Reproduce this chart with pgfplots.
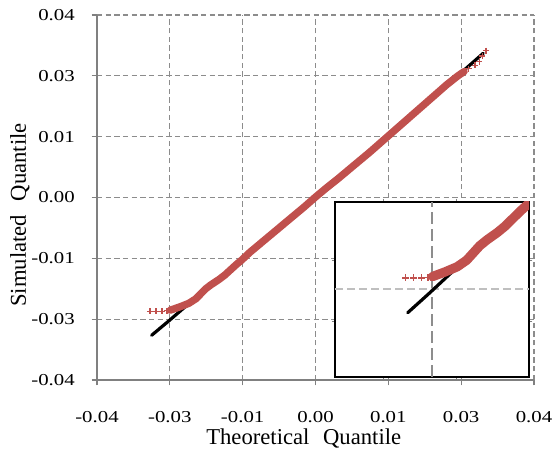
\documentclass[border=0pt]{standalone}
\usepackage{pgfplots}
\pgfplotsset{compat=1.18}
\usepackage{pgfplotstable}
\usepackage{fontspec}
\setmainfont{Liberation Serif}
\newfontfamily\tickfont[FakeStretch=1.25]{Liberation Serif}
\definecolor{qred}{RGB}{192,80,77}
\definecolor{gridgray}{RGB}{140,140,140}
\definecolor{axgray}{RGB}{128,128,128}

\pgfplotstableread{
x y
-0.0300 -0.0302
-0.0270 -0.0272
-0.0240 -0.0241
-0.0150 -0.0150
0.0000 0.0002
0.0150 0.0155
0.0250 0.0256
0.0307 0.0316
}\blackdata

\pgfplotstableread{
x y
-0.0266 -0.0247
-0.0249 -0.0240
-0.0232 -0.0232
-0.0219 -0.0222
-0.0210 -0.0211
-0.0201 -0.0200
-0.0191 -0.0191
-0.0177 -0.0180
-0.0166 -0.0170
-0.0156 -0.0159
-0.0145 -0.0147
-0.0136 -0.0138
-0.0120 -0.0120
-0.0100 -0.0100
-0.0080 -0.0080
-0.0060 -0.0060
-0.0040 -0.0040
-0.0020 -0.0020
0.0000 0.0001
0.0020 0.0021
0.0040 0.0040
0.0060 0.0060
0.0080 0.0080
0.0100 0.0100
0.0120 0.0121
0.0140 0.0142
0.0160 0.0163
0.0180 0.0184
0.0200 0.0205
0.0220 0.0226
0.0240 0.0247
0.0260 0.0266
0.0272 0.0276
}\redband

\pgfplotstableread{
x y
-0.0303 -0.0249
-0.0292 -0.0249
-0.0281 -0.0249
-0.0272 -0.0248
0.0280 0.0282
0.0292 0.0290
0.0300 0.0298
0.0305 0.0310
0.0312 0.0322
}\redmarks

\begin{document}
\begin{tikzpicture}
\path[use as bounding box] (-72.75pt,-51.75pt) rectangle (342pt,285pt);
\begin{axis}[
  scale only axis, width=327.75pt, height=273.75pt,
  at={(0,0)}, anchor=south west,
  xmin=-0.04, xmax=0.04, ymin=-0.04, ymax=0.04,
  scaled ticks=false,
  xtick={-0.04,-0.0266667,-0.0133333,0,0.0133333,0.0266667,0.04},
  ytick={-0.04,-0.0266667,-0.0133333,0,0.0133333,0.0266667,0.04},
  xticklabels={-0.04,-0.03,-0.01,0.00,0.01,0.03,0.04},
  yticklabels={-0.04,-0.03,-0.01,0.00,0.01,0.03,0.04},
  axis x line=bottom, axis y line=left,
  axis line style={-, axgray, line width=1.1pt},
  tick align=outside, major tick length=4pt,
  tick style={axgray, line width=0.8pt},
  grid=major,
  major grid style={gridgray, line width=0.9pt, dash pattern=on 4pt off 2.5pt},
  xticklabel style={font=\tickfont\fontsize{12.5}{14}\selectfont, inner sep=0pt, anchor=base, yshift=-28pt},
  yticklabel style={font=\tickfont\fontsize{12.5}{14}\selectfont, inner sep=0pt, anchor=east, xshift=-12.5pt},
  xlabel={Theoretical\hspace{0.6em}Quantile},
  ylabel={Simulated\hspace{0.6em}Quantile},
  xlabel style={font=\fontsize{17}{20}\selectfont, at={(axis description cs:0.473,-0.176)}, anchor=base, inner sep=0pt},
  ylabel style={font=\fontsize{17}{20}\selectfont, at={(axis description cs:-0.1625,0.452)}, anchor=base, inner sep=0pt},
  clip=false,
]
\addplot[black, line width=2.4pt, line cap=round] table[x=x,y=y] {\blackdata};
\addplot[qred, line width=5.5pt, line cap=round, line join=round] table[x=x,y=y] {\redband};
\addplot[qred, only marks, mark=+, mark size=2.3pt, mark options={line width=0.9pt}] table[x=x,y=y] {\redmarks};
\end{axis}
\begin{axis}[
  scale only axis, width=145.5pt, height=131.25pt,
  at={(178.5pt,2.25pt)}, anchor=south west,
  xmin=-0.04, xmax=-0.0133333, ymin=-0.04, ymax=-0.0133333,
  scaled ticks=false,
  axis background/.style={fill=white},
  axis line style={black, line width=1.5pt},
  xtick={-0.0333,-0.0233}, ytick={-0.0222,-0.0315},
  xticklabels={}, yticklabels={},
  tick align=outside, major tick length=2.5pt,
  tick style={axgray, line width=0.6pt},
  extra x ticks={-0.0266667}, extra x tick labels={},
  extra x tick style={grid=major, major tick length=0pt,
     major grid style={color=axgray!90, line width=1.5pt, dash pattern=on 9pt off 3.75pt}},
  extra y ticks={-0.0266667}, extra y tick labels={},
  extra y tick style={grid=major, major tick length=0pt,
     major grid style={color=black!25, line width=1.5pt, dash pattern=on 6pt off 3pt}},
]
\addplot[black, line width=2.4pt, line cap=round] table[x=x,y=y] {\blackdata};
\addplot[qred, line width=7pt, line cap=round, line join=round] table[x=x,y=y] {\redband};
\addplot[qred, only marks, mark=+, mark size=2.6pt, mark options={line width=1pt}] table[x=x,y=y] {\redmarks};
\end{axis}
\end{tikzpicture}
\end{document}
